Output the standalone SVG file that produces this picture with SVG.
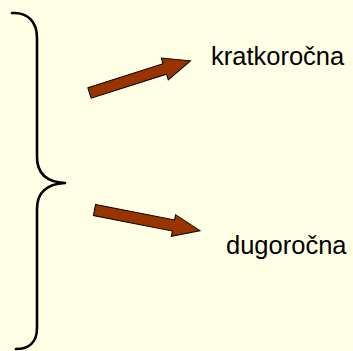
<svg xmlns="http://www.w3.org/2000/svg" width="353" height="351" viewBox="0 0 353 351">
<style>
.brace{fill:none;stroke:#000;stroke-width:2.6;stroke-linecap:round;stroke-linejoin:round}
.arrow{fill:#993300;stroke:#000;stroke-width:1}
.lbl{font-family:"Liberation Sans",Arial,sans-serif;font-size:25.5px;fill:#000}
</style>
<rect width="353" height="351" fill="#FFFFE5"/>
<g id="brace">
<path class="brace" d="M12,13 C28,12 37,22 37,38 L37,157 C37,173 46,182 65,183 C46,184 37,193 37,209 L37,328 C37,342 29,349 16,349"/>
</g>
<g id="connectors">
<polygon class="arrow" transform="translate(89.5,93) rotate(-17.7)" points="0,-5.5 79,-5.5 79,-11.5 106,0 79,11.5 79,5.5 0,5.5"/>
<polygon class="arrow" transform="translate(94.5,210) rotate(11.1)" points="0,-5.7 80.5,-5.7 80.5,-11 107.5,0 80.5,11 80.5,5.7 0,5.7"/>
</g>
<g id="kratkorocna"><text class="lbl" x="211" y="65">kratkoročna</text></g>
<g id="dugorocna"><text class="lbl" x="226" y="254">dugoročna</text></g>
</svg>
